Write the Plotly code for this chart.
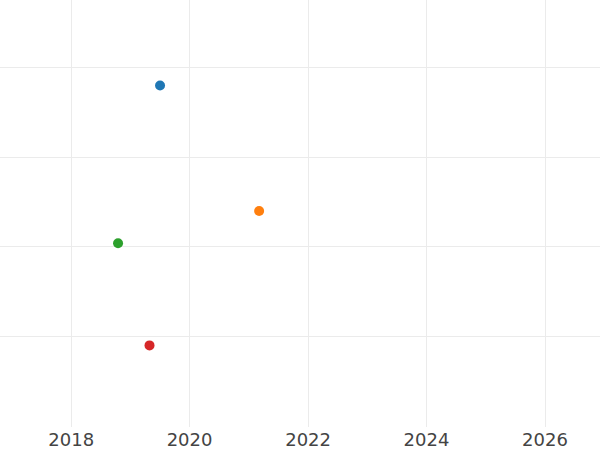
import plotly.graph_objects as go

dates = ["2019-07-03", "2021-03-05", "2018-10-17", "2019-04-29"]
values = [3.8, 2.4, 2.04, 0.9]
colors = ["#1f77b4", "#ff7f0e", "#2ca02c", "#d62728"]
tick_vals = ["2018-01-01", "2020-01-01", "2022-01-01", "2024-01-01", "2026-01-01"]
tick_text = ["2018", "2020", "2022", "2024", "2026"]

fig = go.Figure()
for d, v, c in zip(dates, values, colors):
    fig.add_trace(go.Scatter(x=[d], y=[v], mode="markers",
                             marker=dict(color=c, size=10), showlegend=False))

fig.update_layout(
    width=600, height=450,
    margin=dict(l=0, r=0, t=0, b=23),
    paper_bgcolor="white", plot_bgcolor="white",
    font=dict(family="DejaVu Sans", size=18, color="#444"),
    xaxis=dict(type="date", range=["2016-10-19", "2026-12-06"],
               tickvals=tick_vals, ticktext=tick_text,
               showgrid=True, gridcolor="#ebebeb", zeroline=False,
               showline=False, automargin=False),
    yaxis=dict(range=[-0.011, 4.755], tickvals=[1, 2, 3, 4], showticklabels=False,
               showgrid=True, gridcolor="#ebebeb", zeroline=False,
               showline=False, automargin=False),
)
fig.write_html("out.html", config={"displayModeBar": False},
               post_script="document.body.style.margin='0';document.body.style.overflow='hidden';")
